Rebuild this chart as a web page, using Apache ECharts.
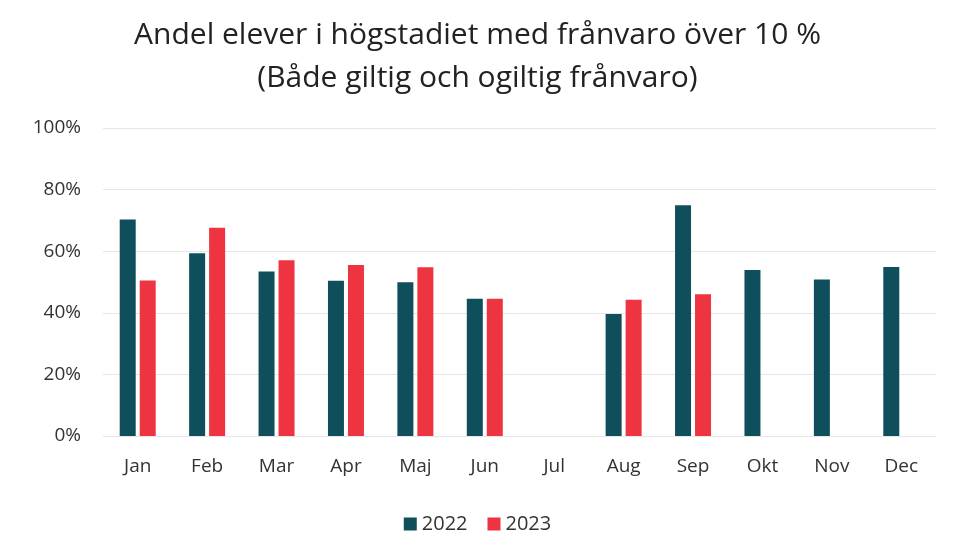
<!DOCTYPE html>
<html>
<head>
<meta charset="utf-8">
<script src="https://cdn.jsdelivr.net/npm/echarts@6/dist/echarts.min.js"></script>
<style>
  html, body { margin: 0; padding: 0; background: #fff; }
  #chart { width: 955px; height: 554px; }
</style>
</head>
<body>
<div id="chart"></div>
<script>
// månader och andel elever (%) med frånvaro över 10 %
var months = ['Jan', 'Feb', 'Mar', 'Apr', 'Maj', 'Jun', 'Jul', 'Aug', 'Sep', 'Okt', 'Nov', 'Dec'];
var data2022 = [70.3, 59.3, 53.4, 50.4, 49.9, 44.6, null, 39.6, 74.9, 53.9, 50.8, 54.9];
var data2023 = [50.5, 67.6, 57.1, 55.5, 54.8, 44.6, null, 44.2, 46.0, null, null, null];
var yTicks = [0, 20, 40, 60, 80, 100];

var myChart = echarts.init(document.getElementById('chart'));
var option = {
    animation: false,
    backgroundColor: '#fff',
    title: {
        text: 'Andel elever i högstadiet med frånvaro över 10 %\n(Både giltig och ogiltig frånvaro)',
        left: 'center',
        top: 9,
        textStyle: { fontFamily: 'Open Sans', fontWeight: 'normal', fontSize: 30, color: '#222', lineHeight: 43 }
    },
    legend: {
        bottom: 15,
        left: 'center',
        itemWidth: 13, itemHeight: 13, itemGap: 20,
        icon: 'rect',
        textStyle: { fontFamily: 'Open Sans', fontSize: 20, color: '#333' },
        data: ['2022', '2023']
    },
    grid: { left: 103, right: 19, top: 128, bottom: 118 },
    xAxis: {
        type: 'category',
        data: months,
        axisLine: { show: false },
        axisTick: { show: false },
        axisLabel: { fontFamily: 'Open Sans', fontSize: 19, color: '#333', margin: 21 }
    },
    yAxis: {
        type: 'value',
        min: yTicks[0], max: yTicks[yTicks.length - 1], interval: 20,
        axisLabel: { formatter: '{value}%', fontFamily: 'Open Sans', fontSize: 19, color: '#333', margin: 22 },
        splitLine: { lineStyle: { color: '#e6e6e6' } }
    },
    series: [
        { name: '2022', type: 'bar', data: data2022, barWidth: 16, barGap: '25%', itemStyle: { color: '#0f4f5b' } },
        { name: '2023', type: 'bar', data: data2023, barWidth: 16, itemStyle: { color: '#ee3341' } }
    ]
};
myChart.setOption(option);
</script>
</body>
</html>
